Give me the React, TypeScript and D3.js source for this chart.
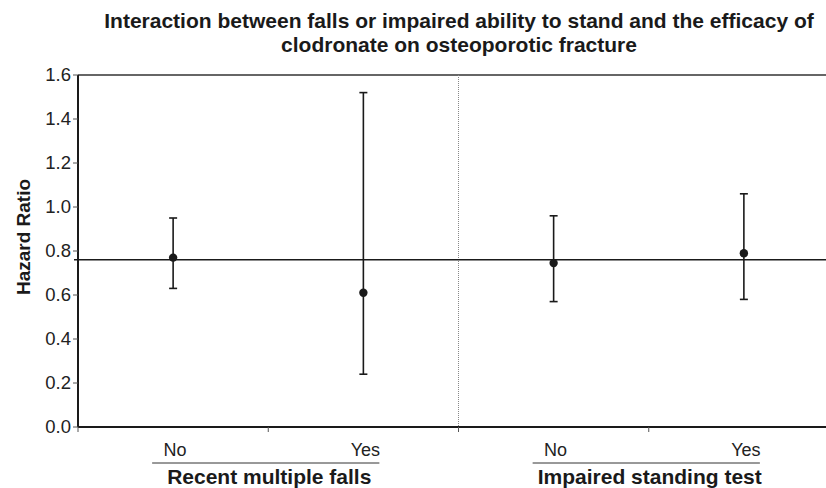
import React from "react";
import * as d3 from "d3";

const categories = ["No", "Yes", "No", "Yes"];
const groups = ["Recent multiple falls", "Impaired standing test"];
const hazardRatio = [0.77, 0.61, 0.745, 0.79];
const lowerCI = [0.63, 0.24, 0.57, 0.58];
const upperCI = [0.95, 1.52, 0.96, 1.06];
const referenceHR = 0.76;
const yTicks = [0, 0.2, 0.4, 0.6, 0.8, 1.0, 1.2, 1.4, 1.6];
const titleLines = [
  "Interaction between falls or impaired ability to stand and the efficacy of",
  "clodronate on osteoporotic fracture",
];

const W = 826;
const H = 488;
const left = 78;
const right = 839;
const top = 75;
const bottom = 427;

export default function App() {
  const x = d3
    .scaleBand<number>()
    .domain(categories.map((_, i) => i))
    .range([left, right]);
  const y = d3.scaleLinear().domain([0, 1.6]).range([bottom, top]);
  const font = "'Liberation Sans', Arial, Helvetica, sans-serif";
  const ink = "#1a1a1a";
  const bw = x.bandwidth();

  return (
    <svg
      width={W}
      height={H}
      style={{ position: "absolute", left: 0, top: 0, background: "#fff" }}
      fontFamily={font}
    >
      {titleLines.map((t, i) => (
        <text
          key={i}
          x={459}
          y={28 + i * 24}
          textAnchor="middle"
          fontWeight="bold"
          fontSize={21}
          fill={ink}
        >
          {t}
        </text>
      ))}

      {/* top border */}
      <line x1={left} x2={W} y1={top} y2={top} stroke="#333" strokeWidth={1.5} />
      {/* separator dotted line */}
      <line
        x1={x(2)!}
        x2={x(2)!}
        y1={top}
        y2={bottom}
        stroke="#888"
        strokeWidth={1}
        strokeDasharray="1,1"
      />

      {/* reference line */}
      <line
        x1={left - 4}
        x2={W}
        y1={y(referenceHR)}
        y2={y(referenceHR)}
        stroke={ink}
        strokeWidth={1.5}
      />

      {/* y axis */}
      <line x1={left} x2={left} y1={top} y2={bottom} stroke={ink} strokeWidth={2} />
      {yTicks.map((t) => (
        <g key={t}>
          <line x1={left - 5} x2={left} y1={y(t)} y2={y(t)} stroke="#555" strokeWidth={1} />
          <text
            x={left - 7}
            y={y(t)}
            dy="0.35em"
            textAnchor="end"
            fontSize={18.5}
            fill="#222"
          >
            {t.toFixed(1)}
          </text>
        </g>
      ))}
      <text
        transform={`translate(${30},${237}) rotate(-90)`}
        textAnchor="middle"
        fontWeight="bold"
        fontSize={19}
        fill={ink}
      >
        Hazard Ratio
      </text>

      {/* x axis */}
      <line x1={left} x2={W} y1={bottom} y2={bottom} stroke={ink} strokeWidth={2} />
      {categories.map((_, i) => (
        <line
          key={i}
          x1={x(i)!}
          x2={x(i)!}
          y1={bottom}
          y2={bottom + 5}
          stroke="#555"
          strokeWidth={1}
        />
      ))}

      {/* error bars */}
      {categories.map((_, i) => {
        const cx = x(i)! + bw / 2;
        return (
          <g key={i}>
            <line x1={cx} x2={cx} y1={y(upperCI[i])} y2={y(lowerCI[i])} stroke={ink} strokeWidth={1.6} />
            <line x1={cx - 4} x2={cx + 4} y1={y(upperCI[i])} y2={y(upperCI[i])} stroke={ink} strokeWidth={1.6} />
            <line x1={cx - 4} x2={cx + 4} y1={y(lowerCI[i])} y2={y(lowerCI[i])} stroke={ink} strokeWidth={1.6} />
            <circle cx={cx} cy={y(hazardRatio[i])} r={4.2} fill={ink} />
          </g>
        );
      })}

      {/* category labels */}
      {groups.map((g, gi) => {
        const c0 = x(gi * 2)! + bw / 2;
        const c1 = x(gi * 2 + 1)! + bw / 2;
        return (
          <g key={g}>
            <text x={c0 + 2} y={456} textAnchor="middle" fontSize={18} fill="#222">
              {categories[gi * 2]}
            </text>
            <text x={c1 + 2} y={456} textAnchor="middle" fontSize={18} fill="#222">
              {categories[gi * 2 + 1]}
            </text>
            <line x1={c0 - 21} x2={c1 + 16} y1={463} y2={463} stroke="#333" strokeWidth={1} />
            <text
              x={(c0 + c1) / 2 + 1}
              y={484}
              textAnchor="middle"
              fontWeight="bold"
              fontSize={21}
              fill={ink}
            >
              {g}
            </text>
          </g>
        );
      })}
    </svg>
  );
}
